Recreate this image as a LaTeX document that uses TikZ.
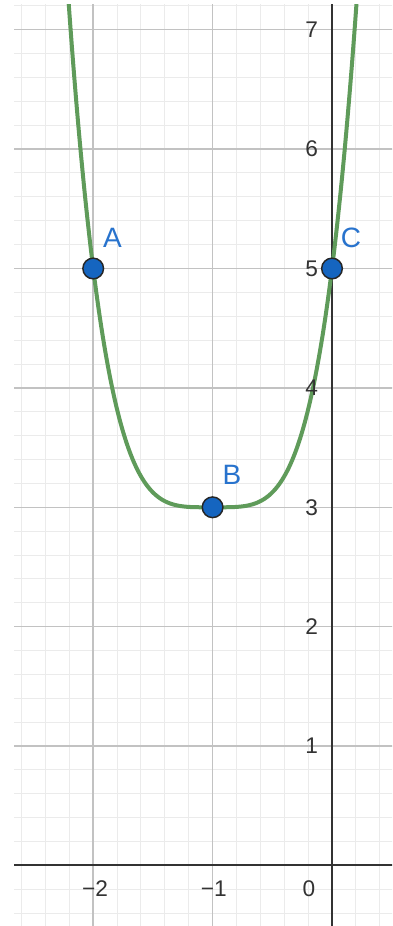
\documentclass[tikz,border=0pt]{standalone}
\usepackage{fontspec}
\setmainfont{Liberation Sans}
\definecolor{gblue}{RGB}{21,101,192}
\definecolor{gbluetext}{RGB}{40,115,205}
\definecolor{ggreen}{RGB}{95,155,90}
\begin{document}
\begin{tikzpicture}[x=89.55pt,y=89.55pt,
 minorgrid/.style={draw=black!8, line width=0.75pt},
 majorgrid/.style={draw=black!24, line width=1.1pt},
 axisline/.style={draw=black!80, line width=1.5pt},
 curveline/.style={draw=ggreen, line width=3pt},
 ticklab/.style={font=\fontsize{17}{17}\selectfont, text=black!80, inner sep=0pt},
 ptdot/.style={circle, fill=gblue, draw=black!85, line width=1.1pt, minimum size=15.5pt, inner sep=0pt},
 ptlab/.style={font=\fontsize{21}{21}\selectfont, text=gbluetext, inner sep=0pt}]
\useasboundingbox (-2.7806,-0.5067) rectangle (0.5025,7.2487);
\fill[white] (-2.7806,-0.5067) rectangle (0.5025,7.2487);
\begin{scope}
\clip (-2.663,-0.5067) rectangle (0.5025,7.207);
\foreach \i in {-13,...,2} \draw[minorgrid] (\i/5,-1) -- (\i/5,8);
\foreach \j in {-2,...,36} \draw[minorgrid] (-3,\j/5) -- (1,\j/5);
\foreach \i in {-2,-1} \draw[majorgrid] (\i,-1) -- (\i,8);
\foreach \j in {1,...,7} \draw[majorgrid] (-3,\j) -- (1,\j);
\coordinate (xl) at (-3,0);
\coordinate (xr) at (1,0);
\coordinate (yb) at (0,-1);
\coordinate (yt) at (0,8);
\draw[axisline] (xl) -- (xr);
\draw[axisline] (yb) -- (yt);
\draw[curveline] plot[domain=-2.215:0.215, samples=241, smooth] (\x,{2*(\x+1)*(\x+1)*(\x+1)*(\x+1)+3});
\end{scope}
\node[ticklab] (lxm2) at (-1.985,-0.197) {−2};
\node[ticklab] (lxm1) at (-0.99,-0.197) {−1};
\node[ticklab] (lx0) at (-0.193,-0.197) {0};
\foreach \j in {1,...,7} \node[ticklab, anchor=east] (ly\j) at (-0.115,\j) {\j};
\node[ptdot] (A) at (-2,5) {};
\node[ptdot] (B) at (-1,3) {};
\node[ptdot] (C) at (0,5) {};
\node[ptlab] (lA) at (-1.838,5.256) {A};
\node[ptlab] (lB) at (-0.8375,3.27) {B};
\node[ptlab] (lC) at (0.159,5.26) {C};
\end{tikzpicture}
\end{document}
